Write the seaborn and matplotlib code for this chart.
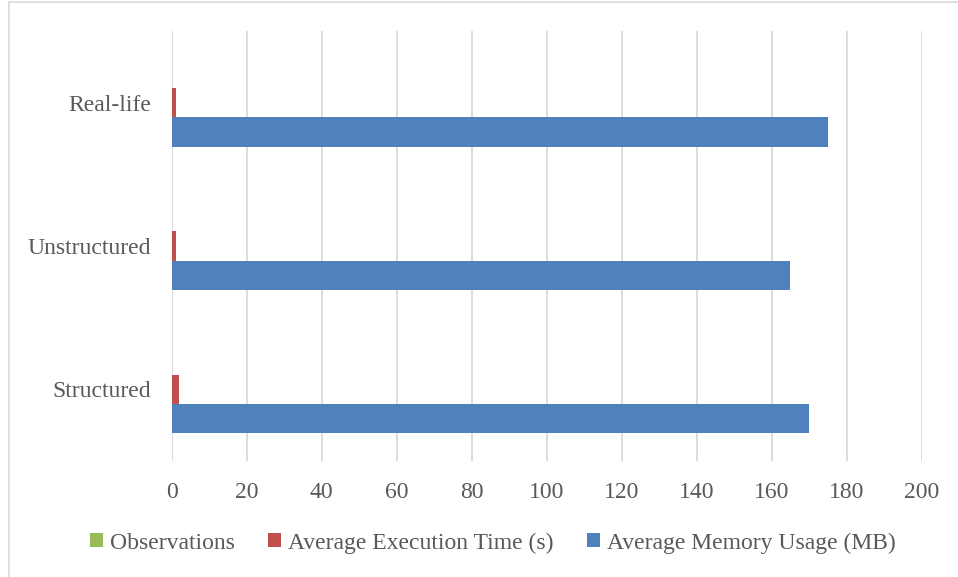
import matplotlib
matplotlib.use("Agg")
import matplotlib.pyplot as plt
import matplotlib.patches as mpatches
import pandas as pd
import seaborn as sns

# Data
categories = ["Real-life", "Unstructured", "Structured"]
series_names = ["Observations", "Average Execution Time (s)", "Average Memory Usage (MB)"]
observations = [0, 0, 0]
exec_time = [1.1, 1.1, 1.9]
memory_usage = [175, 165, 170]
x_ticks = [0, 20, 40, 60, 80, 100, 120, 140, 160, 180, 200]

colors = ["#9BBB59", "#C0504D", "#4F81BD"]
text_color = "#595959"
grid_color = "#D9D9D9"

rows = []
for name, vals in zip(series_names, [observations, exec_time, memory_usage]):
    for cat, v in zip(categories, vals):
        rows.append({"Category": cat, "Series": name, "Value": v})
df = pd.DataFrame(rows)

sns.set_theme(style="white")
plt.rcParams["font.family"] = ["Liberation Serif", "DejaVu Serif"]

fig = plt.figure(figsize=(9.58, 5.77), dpi=100)
ax = fig.add_axes([171.7 / 958, 1 - 461 / 577, (921.7 - 171.7) / 958, (461 - 31) / 577])

sns.barplot(
    data=df, y="Category", x="Value", hue="Series",
    order=categories, hue_order=series_names, palette=colors,
    orient="h", width=0.615, gap=0, saturation=1,
    linewidth=0, edgecolor="none", ax=ax, legend=False,
)

fs = 17
ax.set_xlim(0, 200)
ax.set_ylim(2.5, -0.5)
ax.set_xticks(x_ticks)
ax.set_xticklabels([str(t) for t in x_ticks])
ax.set_xlabel("")
ax.set_ylabel("")
ax.grid(axis="x", color=grid_color, linewidth=1.3)
ax.grid(axis="y", visible=False)
ax.set_axisbelow(True)
for s in ax.spines.values():
    s.set_visible(False)
ax.tick_params(axis="both", length=0, labelsize=fs, colors=text_color)
ax.tick_params(axis="x", pad=15)
ax.tick_params(axis="y", pad=15)

# Legend along the bottom
handles = [mpatches.Patch(facecolor=c, edgecolor="none", label=n) for c, n in zip(colors, series_names)]
fig.legend(
    handles=handles, loc="center", bbox_to_anchor=(493 / 958, 1 - 543 / 577),
    ncol=3, frameon=False, fontsize=fs, labelcolor=text_color,
    handlelength=0.55, handleheight=0.55, handletextpad=0.3, columnspacing=1.42,
)

# Chart border
fig.patches.append(mpatches.Rectangle(
    (9 / 958, -0.1), 1.2, 1 - 2 / 577 + 0.1, transform=fig.transFigure,
    fill=False, edgecolor=grid_color, linewidth=1.2,
))

fig.savefig("out.png", dpi=100, facecolor="white")
